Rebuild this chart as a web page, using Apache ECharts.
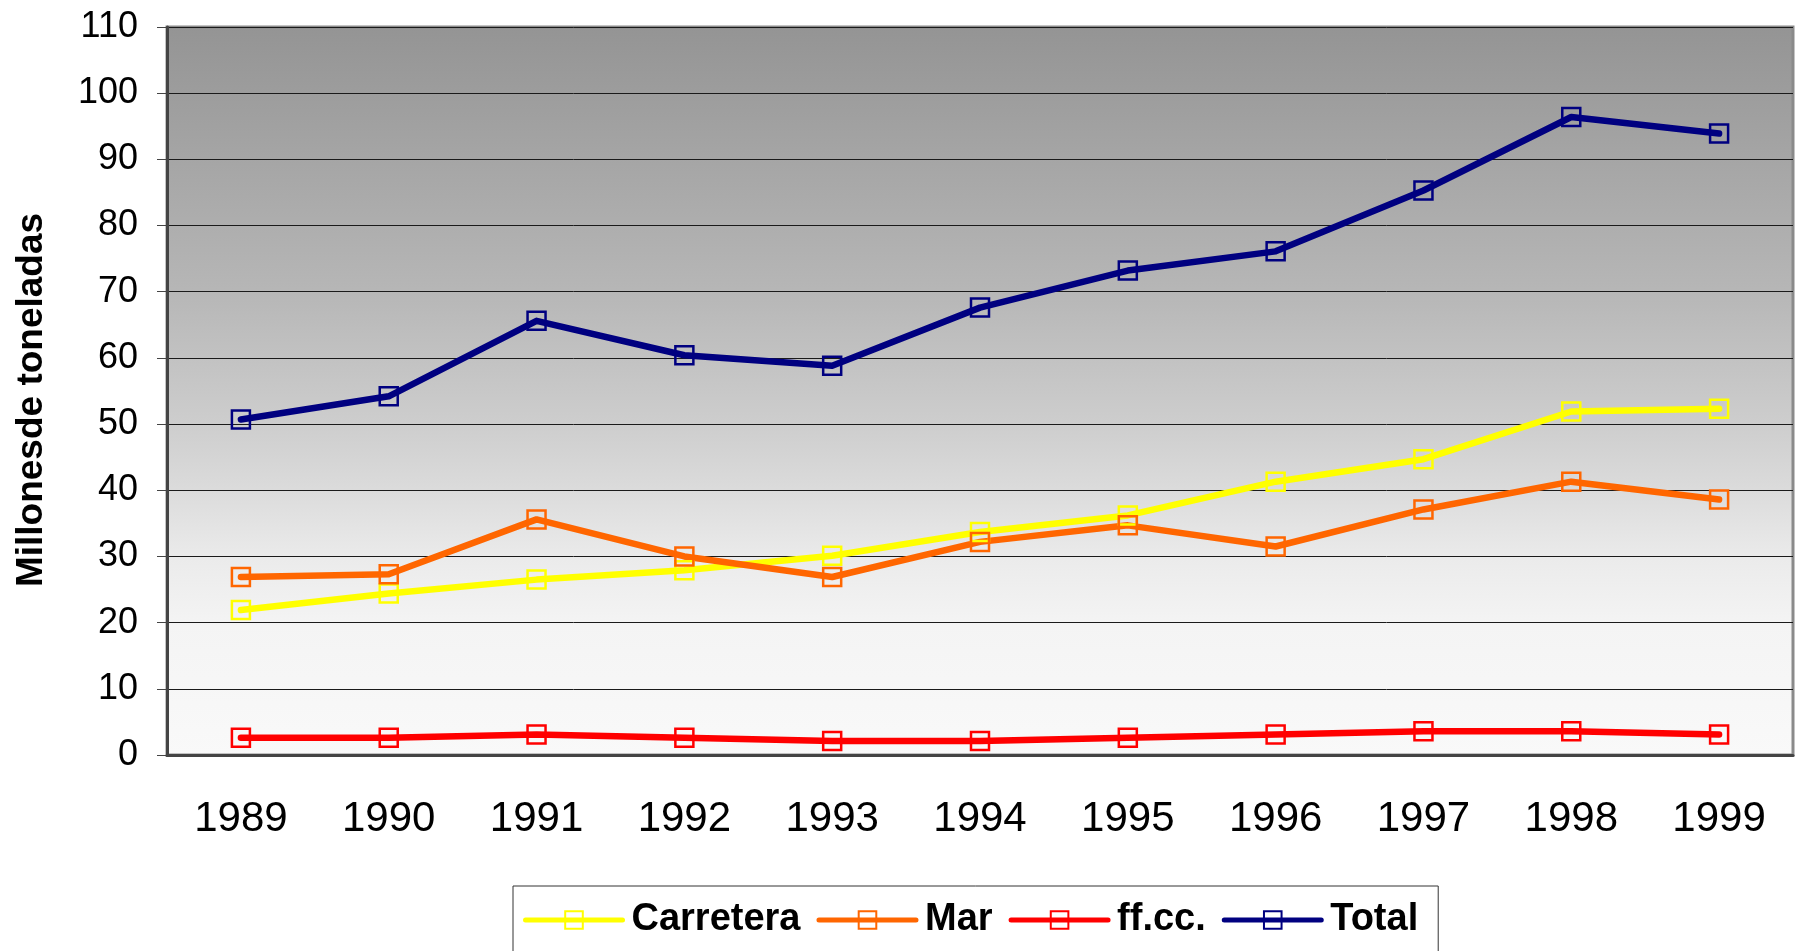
<!DOCTYPE html>
<html>
<head>
<meta charset="utf-8">
<title>Millones de toneladas</title>
<script src="https://cdn.jsdelivr.net/npm/echarts@6/dist/echarts.min.js"></script>
<style>
  html, body { margin: 0; padding: 0; background: #fff; }
  #chart { width: 1797px; height: 951px; }
</style>
</head>
<body>
<div id="chart"></div>
<script>
const years = ['1989', '1990', '1991', '1992', '1993', '1994', '1995', '1996', '1997', '1998', '1999']

const carretera = [21.9, 24.4, 26.5, 27.9, 30.1, 33.7, 36.2, 41.3, 44.7, 51.9, 52.3]
const mar = [26.9, 27.3, 35.6, 30.0, 26.9, 32.2, 34.7, 31.5, 37.1, 41.3, 38.6]
const ffcc = [2.6, 2.6, 3.1, 2.6, 2.1, 2.1, 2.6, 3.1, 3.6, 3.6, 3.1]
const total = [50.7, 54.2, 65.6, 60.4, 58.8, 67.6, 73.2, 76.1, 85.3, 96.4, 93.9]

const seriesNames = ['Carretera', 'Mar', 'ff.cc.', 'Total']
const seriesColors = ['#ffff00', '#ff6600', '#ff0000', '#000080']
const seriesData = [carretera, mar, ffcc, total]

const font = '"Liberation Sans", Arial, sans-serif'

const chart = echarts.init(document.getElementById('chart'))

function makeSeries(i) {
  return {
    name: seriesNames[i],
    type: 'line',
    data: seriesData[i],
    symbol: 'rect',
    symbolSize: 18,
    lineStyle: {
      color: seriesColors[i],
      width: 6.5,
      cap: 'round',
      join: 'round'
    },
    itemStyle: {
      color: 'transparent',
      borderColor: seriesColors[i],
      borderWidth: 2.5
    }
  }
}

const legendText = { fontFamily: font, fontSize: 38, fontWeight: 'bold', color: '#000' }

const option = {
  animation: false,
  grid: {
    left: 167,
    right: 4,
    top: 27,
    bottom: 196,
    show: true,
    borderColor: '#8a8a8a',
    borderWidth: 3,
    backgroundColor: new echarts.graphic.LinearGradient(0, 0, 0, 1, [
      { offset: 0, color: '#949494' },
      { offset: 0.36, color: '#b6b6b6' },
      { offset: 0.55, color: '#cecece' },
      { offset: 0.64, color: '#dcdcdc' },
      { offset: 0.73, color: '#ebebeb' },
      { offset: 0.82, color: '#f4f4f4' },
      { offset: 1, color: '#f9f9f9' }
    ])
  },
  legend: {
    left: 513,
    top: 886,
    itemWidth: 97,
    itemHeight: 22,
    itemGap: 16,
    padding: [15, 20, 17, 10],
    borderColor: '#333',
    borderWidth: 1,
    backgroundColor: '#fff',
    lineStyle: { width: 5, cap: 'round' },
    // Carretera is drawn a little wider in the original
    formatter: name => name === 'Carretera' ? '{wide|' + name + '}' : name,
    textStyle: {
      ...legendText,
      padding: [0, 0, 0, 4],
      rich: {
        wide: { ...legendText, padding: [0, 10, 0, 0] }
      }
    },
    data: seriesNames
  },
  xAxis: {
    type: 'category',
    data: years,
    boundaryGap: true,
    axisLine: { lineStyle: { color: '#444', width: 3 } },
    axisTick: { length: 13, lineStyle: { color: '#555', width: 1 } },
    axisLabel: {
      margin: 43,
      fontFamily: font,
      fontSize: 42,
      color: '#000'
    }
  },
  yAxis: {
    type: 'value',
    min: 0,
    max: 110,
    interval: 10,
    name: 'Millonesde toneladas',
    nameLocation: 'middle',
    nameRotate: 90,
    nameGap: 117,
    nameTextStyle: {
      fontFamily: font,
      fontSize: 37,
      fontWeight: 'bold',
      color: '#000',
      padding: [0, 18, 0, 0]
    },
    axisLine: { show: true, lineStyle: { color: '#444', width: 3 } },
    axisTick: { show: true, length: 10, lineStyle: { color: '#444', width: 1 } },
    axisLabel: {
      margin: 29,
      fontFamily: font,
      fontSize: 36,
      color: '#000'
    },
    splitLine: { lineStyle: { color: '#1a1a1a', width: 1 } }
  },
  series: [0, 1, 2, 3].map(makeSeries)
}

chart.setOption(option)
</script>
</body>
</html>
